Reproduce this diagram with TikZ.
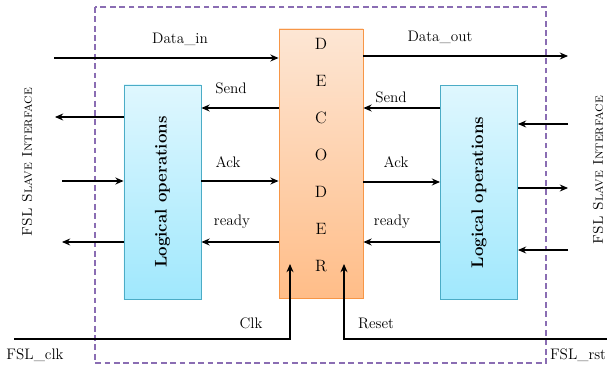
\documentclass[tikz,border=0pt]{standalone}
\usetikzlibrary{arrows.meta}

\definecolor{decline}{HTML}{F79646}
\definecolor{dectop}{HTML}{FDE6D4}
\definecolor{decbot}{HTML}{FFBD88}
\definecolor{logline}{HTML}{4BACC6}
\definecolor{logtop}{HTML}{DFF7FE}
\definecolor{logbot}{HTML}{A0E8FD}
\definecolor{framepurple}{HTML}{8A6DB3}

\tikzset{
  sig/.style={line width=0.9pt,-{Stealth[length=7pt,width=6pt]}},
  decbox/.style={draw=decline,line width=0.8pt,top color=dectop,bottom color=decbot,
    minimum width=2.52cm,minimum height=8.07cm,inner sep=0pt},
  logbox/.style={draw=logline,line width=0.8pt,top color=logtop,bottom color=logbot,
    minimum width=2.31cm,minimum height=6.42cm,inner sep=0pt},
  lbl/.style={font=\fontsize{13}{15}\selectfont,inner sep=1pt},
  iface/.style={font=\large\scshape,rotate=90,inner sep=0pt}
}

\begin{document}
\begin{tikzpicture}[x=0.03cm,y=-0.03cm]
  \useasboundingbox (0,0) rectangle (607,367);

  % outer frame
  \draw[draw=framepurple,line width=1pt,dash pattern=on 5pt off 3pt] (95,7) rectangle (546,363);

  % blocks
  \node[decbox] (dec) at (321,163.5) {};
  \node[logbox] (lft) at (162.5,192) {};
  \node[logbox] (rgt) at (479,192.5) {};
  \node[rotate=90,font=\Large\bfseries] at (lft) {Logical operations};
  \node[rotate=90,font=\Large\bfseries] at (rgt) {Logical operations};

  \foreach \l [count=\i] in {D,E,C,O,D,E,R}
    \node[font=\fontsize{14}{16}\selectfont] (dec\i) at (321,{44+37*(\i-1)}) {\l};

  % free ends
  \coordinate (din)  at (54,58);
  \coordinate (dout) at (568,56);
  \coordinate (lo1) at (55,117);
  \coordinate (li1) at (62,181);
  \coordinate (lo2) at (62,242);
  \coordinate (ri1) at (568,124);
  \coordinate (ro1) at (568,188);
  \coordinate (ri2) at (568,250);
  \coordinate (clk) at (14,339);
  \coordinate (rst) at (607,339);

  % data lines
  \draw[sig] (din) -- (dec.west |- din);
  \draw[sig] (dec.east |- dout) -- (dout);
  \node[lbl] (ldin) at (180,39) {Data\_in};
  \node[lbl] (ldout) at (440,37) {Data\_out};

  % decoder <-> logic blocks
  \draw[sig] (dec.west |- 0,108) -- (lft.east |- 0,108);
  \draw[sig] (lft.east |- 0,181) -- (dec.west |- 0,181);
  \draw[sig] (dec.west |- 0,242) -- (lft.east |- 0,242);
  \draw[sig] (rgt.west |- 0,108) -- (dec.east |- 0,108);
  \draw[sig] (dec.east |- 0,182) -- (rgt.west |- 0,182);
  \draw[sig] (rgt.west |- 0,242) -- (dec.east |- 0,242);
  \node[lbl] (s1) at (231,88) {Send};
  \node[lbl] (a1) at (228,162) {Ack};
  \node[lbl] (r1) at (232,222) {ready};
  \node[lbl] (s2) at (391,97) {Send};
  \node[lbl] (a2) at (396,162) {Ack};
  \node[lbl] (r2) at (392,222) {ready};

  % slave interface lines
  \draw[sig] (lft.west |- lo1) -- (lo1);
  \draw[sig] (li1) -- (lft.west |- li1);
  \draw[sig] (lft.west |- lo2) -- (lo2);
  \draw[sig] (ri1) -- (rgt.east |- ri1);
  \draw[sig] (rgt.east |- ro1) -- (ro1);
  \draw[sig] (ri2) -- (rgt.east |- ri2);
  \node[iface] (fl) at (27,162) {FSL Slave Interface};
  \node[iface] (fr) at (598,170) {FSL Slave Interface};

  % clock and reset
  \draw[sig] (clk) -| (290,264);
  \draw[sig] (rst) -| (344,264);
  \node[lbl] (lclk) at (251,323) {Clk};
  \node[lbl] (lrst) at (376,323) {Reset};
  \node[lbl] (fclk) at (35,355) {FSL\_clk};
  \node[lbl] (frst) at (578,355) {FSL\_rst};
\end{tikzpicture}
\end{document}
